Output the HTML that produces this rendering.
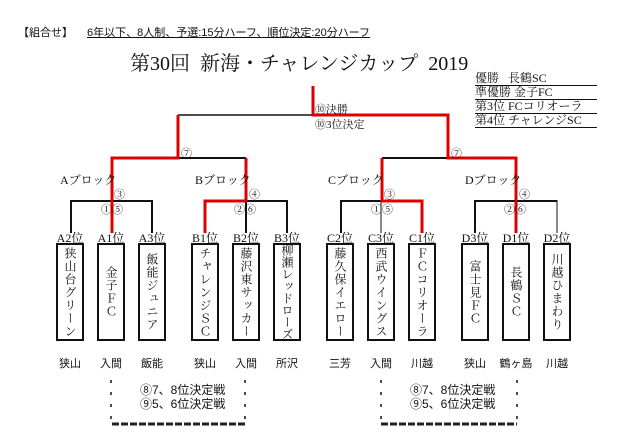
<!DOCTYPE html>
<html><head><meta charset="utf-8"><style>
body{margin:0;width:622px;height:446px;background:#fff;position:relative;overflow:hidden;font-family:"Liberation Serif","Noto Serif CJK SC","Noto Sans CJK JP",serif;color:#111}
.a{position:absolute;white-space:nowrap}
.box{position:absolute;top:243px;width:24px;height:94px;border:2px solid #111;display:flex;align-items:center;justify-content:center;overflow:hidden}
.box span{writing-mode:vertical-rl;font-size:12px;letter-spacing:1px;line-height:24px;white-space:nowrap}
.lb{position:absolute;top:229px;width:40px;text-align:center;font-size:12px}
.pl{position:absolute;top:355px;width:40px;text-align:center;font-size:11px;font-family:"Liberation Sans","Noto Sans CJK JP",sans-serif}
.c{font-size:11px;position:absolute;white-space:nowrap}
.tb{position:absolute;left:475px;width:122px;height:13px;border-bottom:1.5px solid #111;font-size:12px;line-height:13px;white-space:nowrap}
</style></head><body>
<div class="a" style="left:18px;top:24px;font-size:11px;font-family:'Liberation Sans','Noto Sans CJK JP',sans-serif">【組合せ】</div>
<div class="a" style="left:87px;top:24px;font-size:11px;text-decoration:underline;font-family:'Liberation Sans','Noto Sans CJK JP',sans-serif">6年以下、8人制、予選:15分ハーフ、順位決定:20分ハーフ</div>
<div class="a" style="left:130px;top:47px;font-size:20px">第30回&nbsp;&nbsp;新海・チャレンジカップ&nbsp;&nbsp;2019</div>
<div class="tb" style="top:72px">優勝&nbsp;&nbsp;&nbsp;長鶴SC</div>
<div class="tb" style="top:86px">準優勝 金子FC</div>
<div class="tb" style="top:100px">第3位 FCコリオーラ</div>
<div class="tb" style="top:114px">第4位 チャレンジSC</div>

<svg class="a" style="left:0;top:0" width="622" height="446">
<g stroke="#111" fill="none">
<line x1="178" y1="115" x2="313" y2="115" stroke-width="1.5"/>
<line x1="178" y1="158" x2="246" y2="158" stroke-width="2"/>
<line x1="382" y1="158" x2="448" y2="158" stroke-width="2"/>
<line x1="71" y1="201" x2="152" y2="201" stroke-width="2"/>
<line x1="71" y1="200" x2="71" y2="233" stroke-width="2"/>
<line x1="152" y1="200" x2="152" y2="233" stroke-width="2"/>
<line x1="246" y1="201" x2="287" y2="201" stroke-width="2"/>
<line x1="246" y1="201" x2="246" y2="233" stroke-width="2"/>
<line x1="287" y1="200" x2="287" y2="233" stroke-width="2"/>
<line x1="341" y1="201" x2="381" y2="201" stroke-width="2"/>
<line x1="341" y1="200" x2="341" y2="233" stroke-width="2"/>
<line x1="381" y1="201" x2="381" y2="233" stroke-width="1"/>
<line x1="475" y1="201" x2="557" y2="201" stroke-width="2"/>
<line x1="475" y1="200" x2="475" y2="233" stroke-width="2"/>
<line x1="557" y1="200" x2="557" y2="233" stroke-width="1"/>
</g>
<g stroke="#d00" fill="none" stroke-width="3">
<polyline points="313,86 313,115 448,115 448,158 516,158 516,233"/>
<polyline points="178,115 178,158 112,158 112,233"/>
<polyline points="246,158 246,181 246,201 205,201 205,233"/>
<polyline points="382,158 382,201 422,201 422,233"/>
</g>
<g stroke="#111" stroke-width="1.5">
<line x1="111" y1="380" x2="111" y2="383"/><line x1="111" y1="392" x2="111" y2="395"/><line x1="111" y1="404" x2="111" y2="407"/><line x1="111" y1="416" x2="111" y2="419"/>
<line x1="245" y1="380" x2="245" y2="383"/><line x1="245" y1="392" x2="245" y2="395"/><line x1="245" y1="404" x2="245" y2="407"/><line x1="245" y1="416" x2="245" y2="419"/>
<line x1="381" y1="380" x2="381" y2="383"/><line x1="381" y1="392" x2="381" y2="395"/><line x1="381" y1="404" x2="381" y2="407"/><line x1="381" y1="416" x2="381" y2="419"/>
<line x1="517" y1="380" x2="517" y2="383"/><line x1="517" y1="392" x2="517" y2="395"/><line x1="517" y1="404" x2="517" y2="407"/><line x1="517" y1="416" x2="517" y2="419"/>
</g>
<g stroke="#222" stroke-width="3" stroke-dasharray="7,2">
<line x1="112" y1="424" x2="245" y2="424"/>
<line x1="381" y1="424" x2="517" y2="424"/>
</g>
</svg>

<div class="c" style="left:315px;top:101px">⑩決勝</div>
<div class="c" style="left:315px;top:116px">⑩3位決定</div>
<div class="c" style="left:181px;top:145px">⑦</div>
<div class="c" style="left:451px;top:145px">⑦</div>

<div class="a" style="left:60px;top:171px;font-size:12px">Aブロック</div>
<div class="a" style="left:195px;top:171px;font-size:12px">Bブロック</div>
<div class="a" style="left:328px;top:171px;font-size:12px">Cブロック</div>
<div class="a" style="left:465px;top:171px;font-size:12px">Dブロック</div>

<div class="c" style="left:114px;top:186px">③</div><div class="c" style="left:101px;top:201px">①⑤</div>
<div class="c" style="left:249px;top:186px">④</div><div class="c" style="left:234px;top:201px">②⑥</div>
<div class="c" style="left:384px;top:186px">③</div><div class="c" style="left:371px;top:201px">①⑤</div>
<div class="c" style="left:519px;top:186px">④</div><div class="c" style="left:504px;top:201px">②⑥</div>

<div class="lb" style="left:50px">A2位</div><div class="lb" style="left:91px">A1位</div><div class="lb" style="left:132px">A3位</div>
<div class="lb" style="left:185px">B1位</div><div class="lb" style="left:226px">B2位</div><div class="lb" style="left:267px">B3位</div>
<div class="lb" style="left:320px">C2位</div><div class="lb" style="left:361px">C3位</div><div class="lb" style="left:402px">C1位</div>
<div class="lb" style="left:455px">D3位</div><div class="lb" style="left:496px">D1位</div><div class="lb" style="left:537px">D2位</div>

<div class="box" style="left:56px"><span>狭山台グリーン</span></div>
<div class="box" style="left:97px"><span>金子ＦＣ</span></div>
<div class="box" style="left:138px"><span>飯能ジュニア</span></div>
<div class="box" style="left:191px"><span>チャレンジＳＣ</span></div>
<div class="box" style="left:232px"><span>藤沢東サッカー</span></div>
<div class="box" style="left:273px"><span style="letter-spacing:0">柳瀬レッドローズ</span></div>
<div class="box" style="left:326px"><span>藤久保イエロー</span></div>
<div class="box" style="left:367px"><span>西武ウイングス</span></div>
<div class="box" style="left:408px"><span>ＦＣコリオーラ</span></div>
<div class="box" style="left:461px"><span>富士見ＦＣ</span></div>
<div class="box" style="left:502px"><span>長鶴ＳＣ</span></div>
<div class="box" style="left:543px"><span>川越ひまわり</span></div>

<div class="pl" style="left:50px">狭山</div><div class="pl" style="left:91px">入間</div><div class="pl" style="left:132px">飯能</div>
<div class="pl" style="left:185px">狭山</div><div class="pl" style="left:226px">入間</div><div class="pl" style="left:267px">所沢</div>
<div class="pl" style="left:320px">三芳</div><div class="pl" style="left:361px">入間</div><div class="pl" style="left:402px">川越</div>
<div class="pl" style="left:455px">狭山</div><div class="pl" style="left:496px">鶴ヶ島</div><div class="pl" style="left:537px">川越</div>

<div class="a" style="left:140px;top:383px;font-size:12px;line-height:14px;font-family:'Liberation Sans','Noto Sans CJK JP',sans-serif">⑧7、8位決定戦<br>⑨5、6位決定戦</div>
<div class="a" style="left:410px;top:383px;font-size:12px;line-height:14px;font-family:'Liberation Sans','Noto Sans CJK JP',sans-serif">⑧7、8位決定戦<br>⑨5、6位決定戦</div>
</body></html>
